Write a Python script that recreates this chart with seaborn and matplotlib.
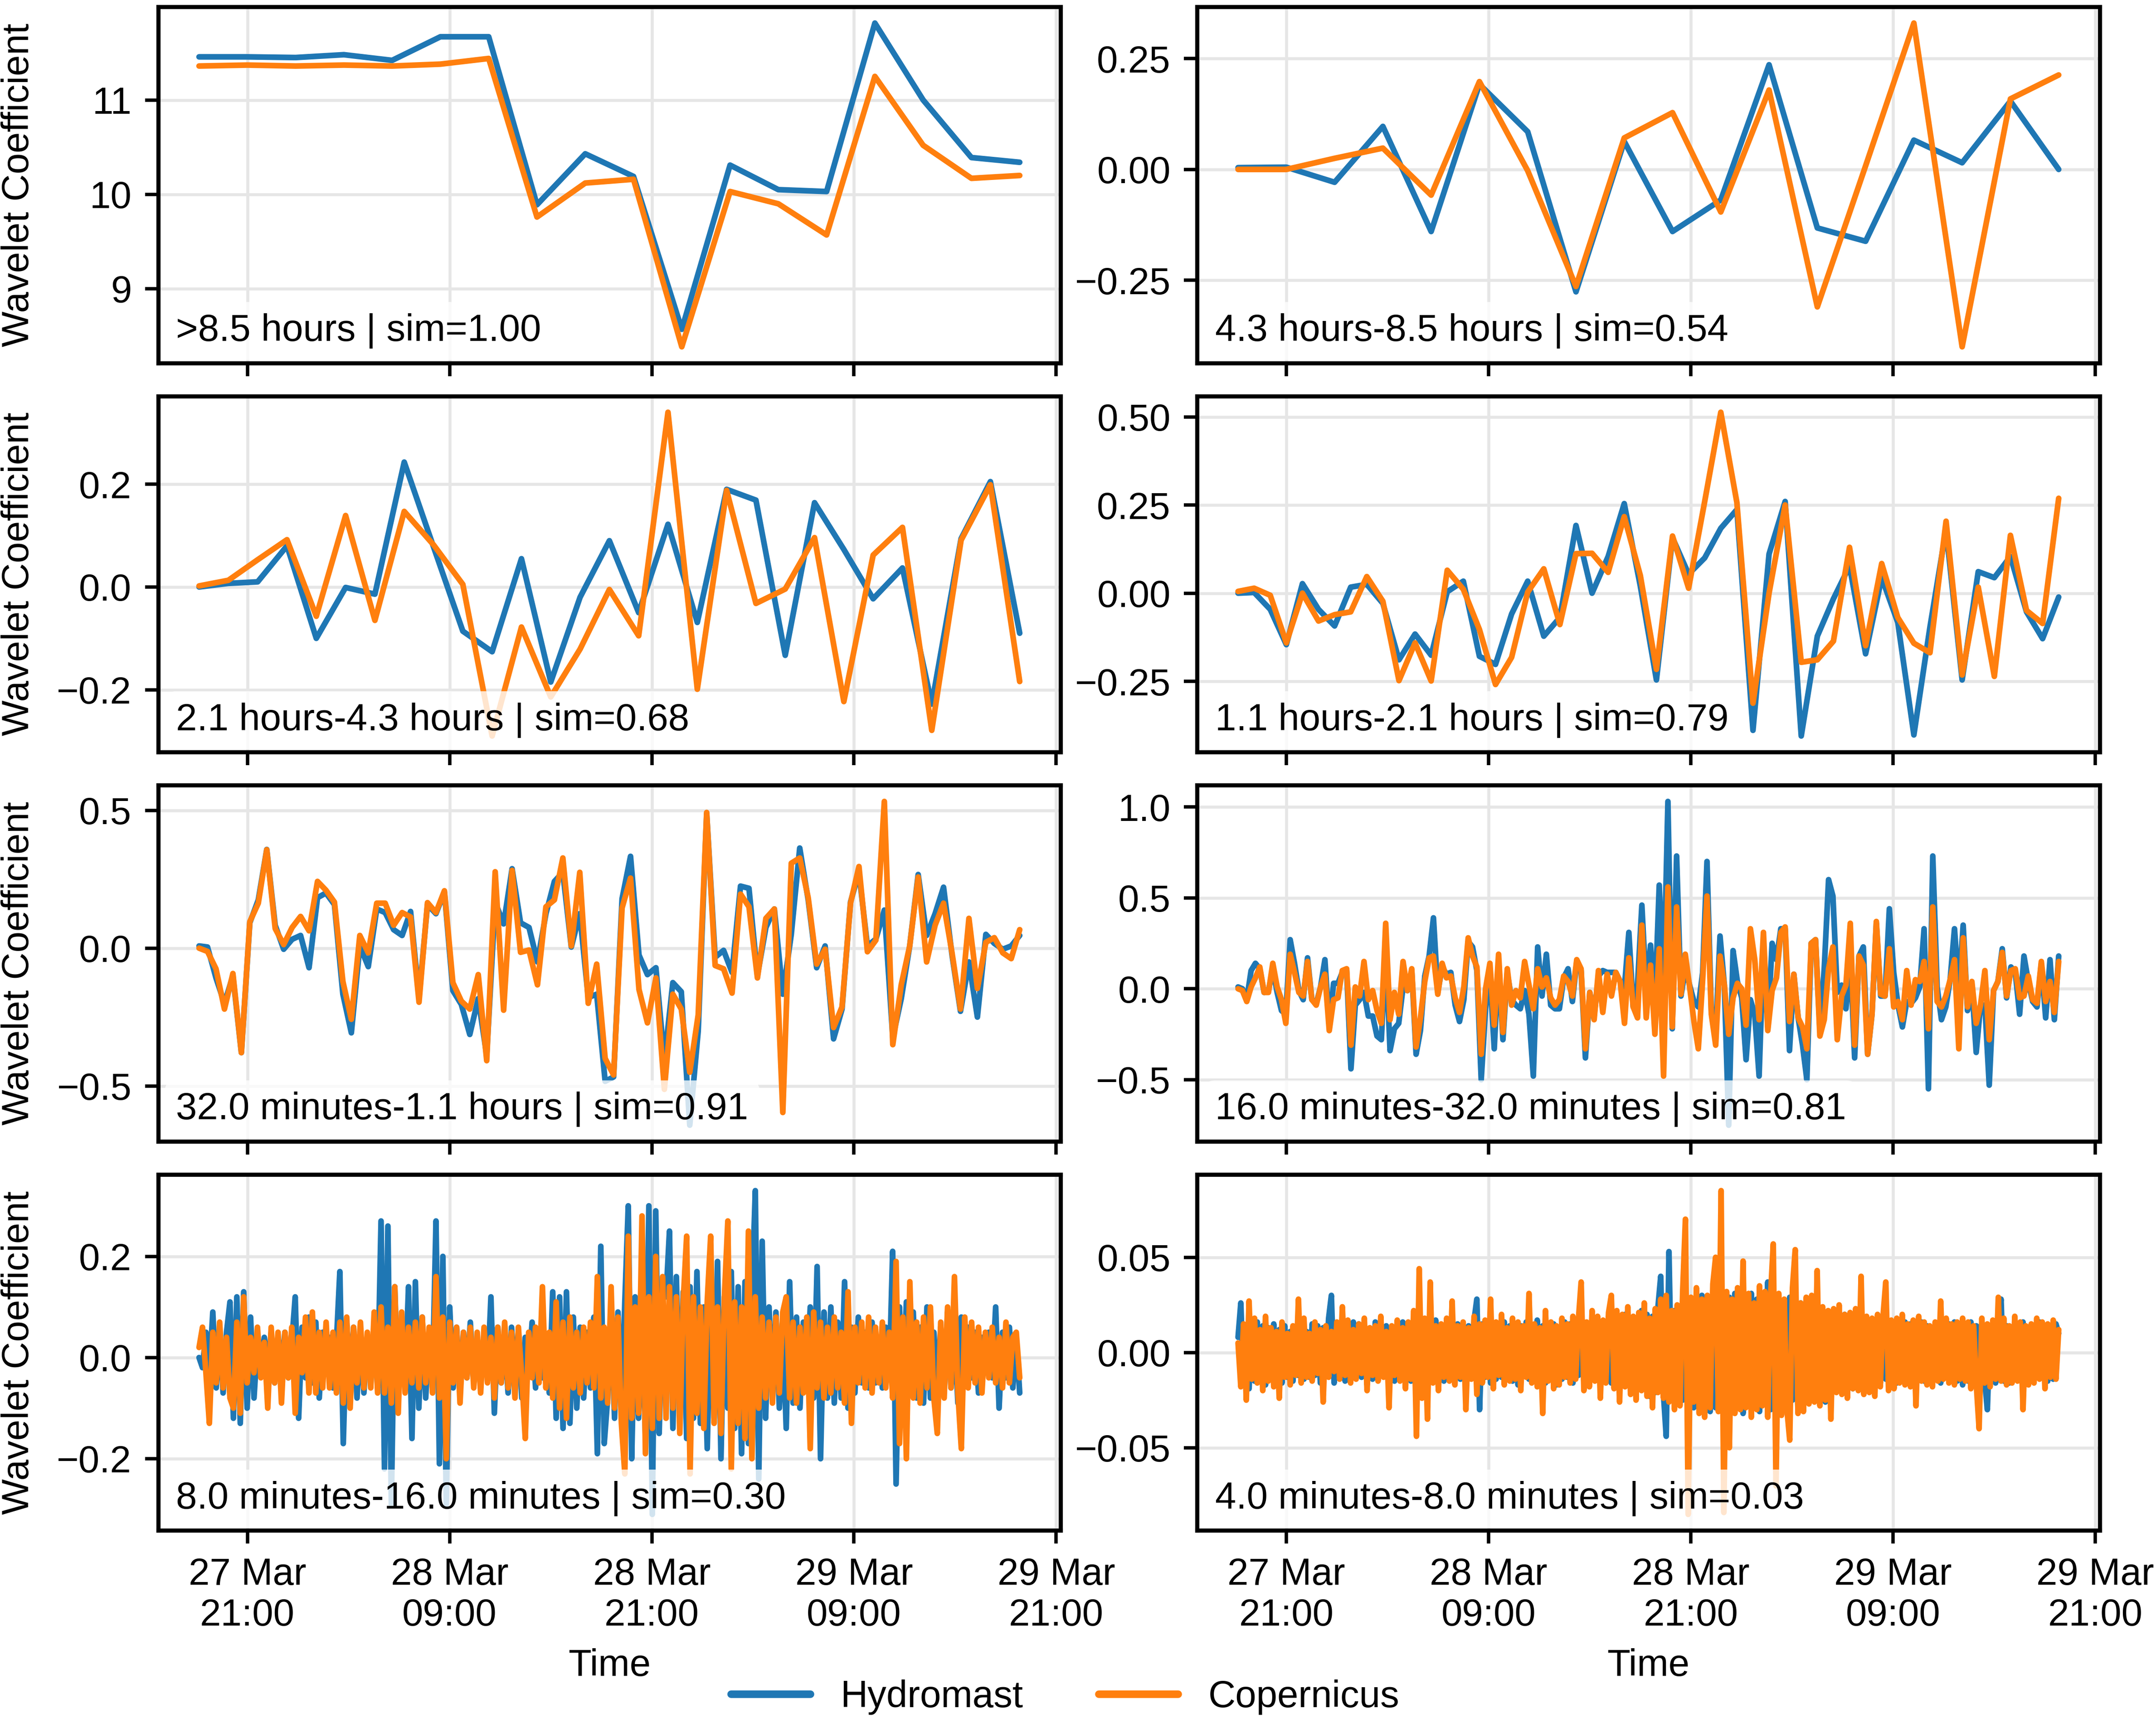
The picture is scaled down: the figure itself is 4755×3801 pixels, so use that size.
import numpy as np
import pandas as pd
import matplotlib
matplotlib.use("Agg")
import matplotlib.pyplot as plt
import matplotlib.dates as mdates
from matplotlib.ticker import MultipleLocator
from matplotlib.lines import Line2D
import seaborn as sns

# period bands of the wavelet levels and the similarity of the two sources
bands = [">8.5 hours", "4.3 hours-8.5 hours", "2.1 hours-4.3 hours", "1.1 hours-2.1 hours",
         "32.0 minutes-1.1 hours", "16.0 minutes-32.0 minutes", "8.0 minutes-16.0 minutes",
         "4.0 minutes-8.0 minutes"]
sims = [1.00, 0.54, 0.68, 0.79, 0.91, 0.81, 0.30, 0.03]
ytick_steps = [1, 0.25, 0.2, 0.25, 0.5, 0.5, 0.2, 0.05]

t_start = pd.Timestamp("2024-03-27 18:08")
t_end = pd.Timestamp("2024-03-29 18:50")

# approximation, >8.5 h
a7_hydro = [11.457, 11.457, 11.45, 11.48, 11.42, 11.67, 11.67, 9.89, 10.43, 10.19, 8.57,
            10.31, 10.05, 10.03, 11.815, 11.0, 10.39, 10.34]
a7_cop = [11.36, 11.37, 11.36, 11.37, 11.36, 11.38, 11.44, 9.76, 10.12, 10.16, 8.385,
          10.03, 9.90, 9.57, 11.25, 10.52, 10.17, 10.20]

# 4.3-8.5 h
d7_hydro = [0.004, 0.005, -0.029, 0.097, -0.14, 0.192, 0.085, -0.276, 0.063, -0.14, -0.069,
            0.236, -0.132, -0.162, 0.066, 0.015, 0.154, 0.0]
d7_cop = [0.0, 0.0, 0.025, 0.048, -0.058, 0.198, -0.003, -0.264, 0.071, 0.128, -0.096,
          0.179, -0.31, 0.008, 0.33, -0.40, 0.159, 0.213]

# 2.1-4.3 h
d6_hydro = [0.0, 0.007, 0.01, 0.08, -0.10, -0.001, -0.014, 0.243, 0.078, -0.086, -0.126,
            0.055, -0.185, -0.02, 0.09, -0.05, 0.122, -0.069, 0.19, 0.169, -0.133, 0.164,
            0.073, -0.023, 0.037, -0.228, 0.094, 0.205, -0.09]
d6_cop = [0.002, 0.013, 0.053, 0.092, -0.057, 0.139, -0.065, 0.147, 0.082, 0.005, -0.29,
          -0.078, -0.214, -0.121, -0.005, -0.095, 0.34, -0.199, 0.188, -0.032, -0.004, 0.096,
          -0.223, 0.062, 0.116, -0.279, 0.091, 0.199, -0.184]

# 1.1-2.1 h
d5_hydro = [0.0, 0.002, -0.046, -0.146, 0.027, -0.046, -0.093, 0.017, 0.025, -0.029, -0.189,
            -0.116, -0.176, 0.004, 0.034, -0.179, -0.202, -0.059, 0.034, -0.122, -0.069,
            0.192, 0.0, 0.104, 0.254, 0.02, -0.246, 0.157, 0.054, 0.1, 0.184, 0.237, -0.389,
            0.111, 0.26, -0.405, -0.122, -0.016, 0.077, -0.172, 0.044, -0.083, -0.402,
            -0.096, 0.18, -0.246, 0.061, 0.044, 0.104, -0.053, -0.129, -0.011]
d5_cop = [0.005, 0.014, -0.006, -0.141, 0.0, -0.079, -0.061, -0.053, 0.047, -0.023, -0.248,
          -0.141, -0.249, 0.065, 0.011, -0.103, -0.259, -0.182, 0.003, 0.069, -0.089, 0.112,
          0.113, 0.059, 0.217, 0.05, -0.216, 0.162, 0.014, 0.26, 0.513, 0.257, -0.312, 0.0,
          0.25, -0.196, -0.189, -0.136, 0.13, -0.149, 0.084, -0.069, -0.142, -0.169, 0.204,
          -0.232, 0.017, -0.236, 0.164, -0.049, -0.086, 0.269]

# 32 min-1.1 h
d4_hydro = [0.008, 0.004, -0.108, -0.2, -0.1, -0.379, 0.092, 0.175, 0.358, 0.083, -0.004,
            0.032, 0.046, -0.071, 0.183, 0.2, 0.158, -0.167, -0.307, 0.008, -0.067, 0.142,
            0.129, 0.067, 0.046, 0.133, -0.18, 0.158, 0.125, 0.204, -0.154, -0.204, -0.313,
            -0.183, -0.39, 0.167, 0.088, 0.288, 0.092, 0.075, -0.05, 0.125, 0.242, 0.275,
            0.004, 0.125, -0.179,
            -0.167, -0.483, -0.467, 0.179, 0.333, -0.025, -0.096, -0.071, -0.408, -0.125,
            -0.158, -0.642, -0.3, 0.488, -0.033, -0.008, -0.088, 0.225, 0.217, -0.1, 0.075,
            0.142, -0.167, 0.05, 0.363, 0.175, -0.071, 0.008, -0.329, -0.221, 0.167, 0.275,
            0.008, 0.033, 0.138, -0.325, -0.183, 0.008, 0.267, 0.046, 0.125, 0.221, -0.025,
            -0.229, -0.05, -0.25, 0.05, 0.017, -0.004, 0.008, 0.046]
d4_cop = [0.0, -0.012, -0.075, -0.221, -0.092, -0.379, 0.096, 0.163, 0.357, 0.071, 0.013,
          0.075, 0.115, 0.063, 0.242, 0.21, 0.167, -0.121, -0.258, 0.046, -0.017, 0.163,
          0.163, 0.083, 0.129, 0.113, -0.196, 0.165, 0.129, 0.208, -0.125, -0.192, -0.221,
          -0.096, -0.408, 0.277, -0.225, 0.282, -0.015, -0.007, -0.133, 0.15, 0.175, 0.327,
          0.008, 0.275, -0.2,
          -0.058, -0.4, -0.46, 0.146, 0.254, -0.15, -0.271, -0.108, -0.512, -0.167, -0.221,
          -0.45, -0.242, 0.492, -0.063, -0.075, -0.163, 0.196, 0.15, -0.108, 0.108, 0.142,
          -0.596, 0.308, 0.327, 0.183, -0.058, -0.004, -0.288, -0.213, 0.163, 0.296, -0.013,
          0.029, 0.532, -0.35, -0.133, 0.008, 0.258, -0.05, 0.083, 0.163, -0.017, -0.221,
          0.108, -0.146, 0.021, 0.038, -0.017, -0.038, 0.067]

# 16-32 min, in hundredths
d3_hydro_c = [1, 0, -6, 10, 14, 11, -2, -1, 11, -2, -12, -14, 27, 14, -1, -6, 17, -6, -8, 1,
              16, -21, 3, 3, 9, 10, -44, -9, -6, -2, -15, -15, -26, -28, 23, -34, -22, -19, 1, -1,
              10, -36, -23, 7, 18, 39, -2, 12, 8, 9, -9, -18, -6, 26, 23, 10, -50, -11, 9, -33,
              16, -28, 9, -6, -9, -11, -1, -14, -48, 23, -4, 19, -9, -11, -11, 6, 11, -7, 15, 10,
              -38, -2, -15, 7, 10, 9, 9, 9, 4, 1, 31, -10, 2, 46, -1, 24,
              -9, 57, -1, 103, -22, 73, -4, 11, 2, -7, -10, 9, 70, -13, -25, 29, 2, -75, 21, 4,
              -5, -39, -6, -14, -48, 23, -21, 25, 16, 33, 33, -34, 8, -16, -31, -50, 25, 27, -23, 11,
              60, 51, -2, 2, -11, 18, -38, 18, 23, -36, -14, 36, -4, -4, 44, 9, -9, -21, -7, -8,
              -5, 1, 33, -55, 73, 1, -17, -10, 5, 33, -1, 35, -12, 2, -35, -9, -9, -53, -1, 4,
              22, -5, 12, 9, -14, 18, 4, -7, -10, 14, -16, 16, -17, 18]
d3_cop_c = [0, -1, -7, 1, 6, 12, -2, -2, 14, 1, -6, -19, 19, 9, -2, -4, 15, -6, -9, 1,
            8, -23, -6, -5, 10, 11, -31, 1, -4, 15, -6, -1, -12, -19, 36, -17, -2, -14, 15, -1,
            11, -32, -16, 4, 17, 18, -3, 14, 6, 7, -5, -13, 1, 28, 18, 12, -36, 0, 14, -20,
            19, -24, 11, -9, -1, -5, 15, 2, -11, 11, 1, 6, -5, -9, -6, 7, 4, -4, 16, 11,
            -33, -2, -17, 10, -13, 8, -4, 9, 4, -19, 17, -10, -16, 35, -16, 13,
            -25, 22, -48, 56, -21, 45, -3, 19, 1, -18, -33, 5, 51, -14, -31, 18, 2, -25, -5, 3,
            0, -20, 33, 16, -17, 31, -23, -1, 6, 31, 34, -18, 8, -16, -21, -33, 25, 27, -26, -17,
            11, 23, -28, -4, 2, 36, -31, 18, 13, -36, -14, 37, -3, -4, 22, -10, -7, -17, 10, -9,
            5, 4, 15, -22, 45, -7, -10, -4, 5, 16, -33, 28, -10, 4, -19, -9, 10, -28, -1, 4,
            20, -4, 10, 11, -5, -4, 7, -6, -8, 15, -7, 4, -13, 15]

# 8-16 min, in hundredths (read at a coarser step than the original)
d2_hydro_c = [0, -2, 5, -3, 9, -6, 6, -7, 5, 11, -12, 12, -13, 13, -10, 8, -8, 3, -2, 4,
              -3, 5, -5, 4, -2, 5, -4, 3, 12, -12, 6, -4, 8, -5, 7, -8, 5, -3, 4, -6, 3,
              17, -17, 7, -5, 6, -8, 5, -7, 4, -3, 6, -6,
              27, -22, 26, -29, 14,
              -8, 6, -5, 14, -16, 15, -10, 8, -8, 5, -4,
              27, -21, 20, -29, 10,
              -6, 6, -7, 5, -4, 7, -5, 4, -6, 5, -4, 12, -11, 6, -5, 4, -7, 6, -4, 5, -8, 4, -3,
              7, -6, 5, -4, 3, -7,
              13, -12, 12, -14, 13, -13, 8, -10, 6, -8, 5,
              -6, 8, -19, 22, -17,
              -8, 10, -12, 9, -10, 11, 30, -20, 12, -12, 10, -16, 30, -31, 29, -15, 12,
              12, 25, -14, 16, -12, 13, -16, 14, -12, 17, -13, 10, -18, 13, -12, 19, -20, 12,
              -10, 17, -14, 14, -19, 15, -17, 12, 33, -24, 23,
              -12, 10, -8, 9, -10, 6, -14, 15, -9, 8, -10, 7, -6, 10, -8, 18, -20, 9, -8, 10,
              -9, 7, -8, 15, -10, 6, -7, 8, -5,
              5, -6, 7, -5, 4, -6, 6, -4, 21, -25, 10, -8, 11, -7, 9, -8, 6, -9, 10, -8, 5, -6,
              6, -7, 9, -6, 5, -9, 8, -5, 6, -4, 5, -7, 4, -3, 5, -4, 10, -10, 5, -4, 6, -6, 4, -7]
d2_cop_c = [2, 6, -3, -13, 5, -5, 7, -6, 4, -8, -10, 7, -11, 12, -5, 4, -3, 6, -4, 3,
            -10, 6, -5, 5, -9, 5, -4, 6, -11, 4, -3, 8, -7, 9, -7, 5, -6, 7, -6, 5, -7,
            7, -9, 8, -10, 6, -5, 7, -6, 5, -6, 9, -7,
            10, -7, 6, -9, 14,
            -11, 9, -7, 6, -5, 7, -6, 8, -5, 6, -7,
            16, -8, 8, -20, 7,
            -5, 6, -9, 5, -4, 6, -6, 5, -7, 6, -5, 4, -8, 6, -5, 7, -6, 5, -8, 6, -4, -16, 5,
            -4, 6, -5, 14, -6, 5,
            -8, 11, -10, 7, -12, 8, -6, 5, -7, 6, -5,
            7, -6, 16, -8, 6,
            -9, 14, -10, 8, -13, -23, 24, -12, 10, -11, 28, -19, 12, -14, 20, -12, 16,
            -12, 14, -10, 12, -15, 11, 24, -23, 12, -11, 10, -14, 11, 24, -13, 10, -15, 12,
            27, -22, 11, -13, 10, -16, 25, -20, 12, -10, 8,
            -8, 7, -9, 8, -7, 9, 12, -8, 7, -9, 6, -7, 8, -18, 9, -6, 7, -8, 6, -7,
            8, -6, 5, -9, 13, -13, 6, -5, 7,
            -6, 8, -7, 6, -5, 7, -6, 5, -8, 19, -17, 8, -20, 15, -8, 7, -9, 8, -6, 10, -8, -15,
            7, -8, 10, -6, 16, -7, -18, 8, -6, 7, -5, 6, -7, 5, -4, 6, -5, 4, -6, 7, -5, 4, 5, -4]

# 4-8 min, in thousandths (read at a coarser step than the original)
d1_hydro_m = [8, 26, -16, 14, -19, 13, -15, 16, -12, 14, -17, 13, -11, 15, -14, 12, -16, 14, -13, 11,
              -15, 13, -12, 16, -14, 11, -13, 15, -12, 14, -16, 13, -11, 18, 30, -16, 14, -13, 12, -15,
              13, -14, 16, -12, 15, -13, 14, -17, 12, -14, 16, -13, 15, -12, 14, -16, 13, -15, 12, -14,
              16, -13, 14, -15, 13, -17, 15, -12, 14, -16, 13, -14, 17, -13, 12, -15, 14, -13, 16, -12,
              15, -14, 13, -16, 14, -12, 17, 28, -30, 15, -13, 14, -16, 12, -14, 15, -13, 16, -12, 14,
              -15, 13, -17, 14, -12, 16, -14, 13, -15, 17, -13, 14, -16, 12, -14, 15, -17, 13, -14, 16,
              -13, 15, -16, 14, -12, 17, -15, 13, -16, 18, -14, 16, -17, 15, -13, 19, -16, 17, -18, 15,
              -17, 20, -16, 18, -21, 17, -19, 22, -18, 20, -23, 19, -21, 24, 40, -22, -44, 53, -24, 22,
              -26, 23, -25, 28, -24, 26, -29, 25, -27, 30, -26, 28, -31, 27, -29, 32, -28, 30, -32, 29,
              -30, 31, -28, 29, -32, 30, -27, 31, -29, 28, -31, 29, -26, 37, -30, 28, -29, 27, -31, 26,
              -28, 29, -25, 27, -30, 26, -28, 24, -26, 27, -25, 23, -24, 22, -26, 21, -23, 22, -20, 21,
              -19, 20, -18, 17, -19, 16, -17, 18, -15, 17, -16, 14, -17, 15, -16, 17, -14, 16, -15, 14,
              -16, 15, -13, 16, -14, 15, -17, 14, -13, 16, -15, 14, -16, 13, -14, 15, -16, 14, -13, 15,
              -14, 16, -15, 13, -17, 14, -15, 16, -13, 14, -16, 15, -14, -30, 13, 15, -16, 14, 28, -15,
              14, -16, 13, -14, 15, -13, 16, -14, 12, -15, 14, -13, 16, -12, 14, -15, 13, -14, 15, 10]
d1_cop_m = [5, -18, 15, -25, 27, -14, 18, -16, 12, -20, 19, -15, 13, -18, 11, -24, 16, -13, 10, -17,
            14, -12, 28, -16, 18, -13, 10, -15, 16, -11, 12, -26, 14, -13, 11, -10, 16, -14, 24, -12,
            17, -16, 12, -14, 15, -11, 18, -20, 13, -12, 14, -15, 19, -13, 11, -29, 14, -12, 17, -15,
            13, -19, 16, -14, 22, -44, 44, -24, 18, -35, 37, -16, 14, -20, 15, -13, 18, -15, 27, -17,
            14, -13, 16, -30, 13, -14, 19, -22, 15, -16, 17, -13, 28, -19, 16, -12, 20, -17, 13, -15,
            18, -14, 16, -20, 14, -13, 31, -16, 15, -18, 13, -32, 22, -15, 16, -19, 14, -17, 18, -13,
            15, -16, 19, -14, 17, 37, -20, 16, -18, 22, -15, 19, -24, 17, -16, 21, 30, -19, 22, -26,
            20, -18, 24, -22, 19, -25, 21, -20, 26, -23, 18, -29, 23, -21, 28, -24, 30, -26, 22, -30,
            25, -28, 32, 70, -85, 29, -26, 34, -32, 28, -34, 30, -29, 36, 50, -31, 85, -84, 32, -50,
            28, -32, 34, -30, 48, -29, 31, -34, 26, -30, 35, -28, 32, -34, 29, 57, -70, 31, -33, 28,
            -30, -46, 34, 54, -32, 26, -31, 29, -27, 30, -26, 43, -28, 24, -25, 22, -35, 23, -21, 25,
            -22, 20, -24, 21, -19, 23, -20, 40, -22, 19, -21, 18, -23, 20, -18, 19, 37, -20, 17, -19,
            18, -16, 20, -17, 15, -18, 17, -28, 19, -15, 16, -17, 14, -18, 16, -15, 27, -14, 18, -16,
            15, -17, 16, -14, 18, -15, 16, -19, 14, -17, -40, 18, -16, 15, -18, 17, -14, 29, -15, 18,
            -17, 14, -16, 19, -15, 16, -30, 14, -17, 15, -16, 18, -14, 16, -19, 15, -13, 17, -14, 12]

series = [
    (a7_hydro, a7_cop),
    (d7_hydro, d7_cop),
    (d6_hydro, d6_cop),
    (d5_hydro, d5_cop),
    (d4_hydro, d4_cop),
    (np.array(d3_hydro_c) / 100, np.array(d3_cop_c) / 100),
    (np.array(d2_hydro_c) / 100, np.array(d2_cop_c) / 100),
    (np.array(d1_hydro_m) / 1000, np.array(d1_cop_m) / 1000),
]

sns.set_theme(style="whitegrid", rc={
    "axes.edgecolor": "black",
    "axes.linewidth": 1.1,
    "grid.color": "#e6e6e6",
    "grid.linewidth": 0.8,
    "xtick.bottom": True,
    "ytick.left": True,
    "xtick.major.size": 3.5,
    "ytick.major.size": 3.5,
    "xtick.major.width": 0.9,
    "ytick.major.width": 0.9,
    "xtick.color": "black",
    "ytick.color": "black",
    "text.color": "black",
    "axes.labelcolor": "black",
    "font.size": 10,
    "axes.labelsize": 10,
    "xtick.labelsize": 10,
    "ytick.labelsize": 10,
    "legend.fontsize": 10,
})
plt.rcParams["font.family"] = ["Liberation Sans", "DejaVu Sans"]

palette = {"Hydromast": "#1f77b4", "Copernicus": "#ff7f0e"}

fig, axes = plt.subplots(4, 2, sharex=True, figsize=(7.925, 6.335), dpi=600)
fig.subplots_adjust(left=0.0733, right=0.9739, top=0.996, bottom=0.1117,
                    wspace=0.151, hspace=0.093)

for i, ax in enumerate(axes.flat):
    hydro, cop = series[i]
    df = pd.concat([
        pd.DataFrame({"Time": pd.date_range(t_start, t_end, periods=len(hydro)),
                      "value": hydro, "source": "Hydromast"}),
        pd.DataFrame({"Time": pd.date_range(t_start, t_end, periods=len(cop)),
                      "value": cop, "source": "Copernicus"}),
    ], ignore_index=True)
    sns.lineplot(data=df, x="Time", y="value", hue="source", palette=palette,
                 hue_order=["Hydromast", "Copernicus"], estimator=None, linewidth=1.5,
                 legend=False, ax=ax)
    ax.yaxis.set_major_locator(MultipleLocator(ytick_steps[i]))
    ax.text(0.02, 0.04, f"{bands[i]} | sim={sims[i]:.2f}", transform=ax.transAxes,
            ha="left", va="bottom", fontsize=10,
            bbox=dict(boxstyle="round,pad=0.3", facecolor="white", alpha=0.8, edgecolor="none"))
    for s in ax.spines.values():
        s.set_color("black")
        s.set_linewidth(1.1)
    if i % 2 == 0:
        ax.set_ylabel("Wavelet Coefficient")
        ax.yaxis.set_label_coords(-0.135, 0.5)
    else:
        ax.set_ylabel("")
    ax.set_xlabel("Time" if i >= 6 else "")

for ax in axes[0]:
    ax.xaxis.set_major_locator(mdates.HourLocator(byhour=[9, 21]))
    ax.xaxis.set_major_formatter(mdates.DateFormatter("%d %b\n%H:%M"))

handles = [Line2D([], [], color=palette[k], linewidth=2.0) for k in palette]
fig.legend(handles, list(palette), loc="center", bbox_to_anchor=(0.494, 0.015), ncol=2,
           frameon=False, handlelength=2.1, handletextpad=0.8, columnspacing=2.0)

fig.savefig("out.png", dpi=600)
